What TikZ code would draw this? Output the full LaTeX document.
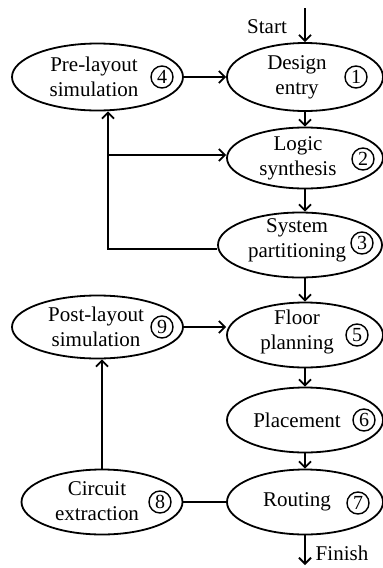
\documentclass[tikz,border=0pt]{standalone}
\usepackage{fontspec}
\setmainfont{Liberation Serif}
\usepackage{tikz}
\usetikzlibrary{shapes.geometric,arrows.meta}
\newcommand{\strokecolor}{black}
\newcommand{\strokewidth}{1.8pt}
\newcommand{\ringsize}{22pt}

\begin{document}
\begin{tikzpicture}[x=1pt,y=-1pt,
  stage/.style={ellipse, draw=\strokecolor, line width=\strokewidth, inner sep=0pt},
  caption/.style={align=center, font=\fontsize{21}{25}\selectfont, inner sep=0pt},
  ring/.style={circle, draw=\strokecolor, line width=1.4pt, inner sep=0pt, minimum size=\ringsize, font=\fontsize{20}{20}\selectfont},
  flow/.style={draw=\strokecolor, line width=\strokewidth, -{Straight Barb[length=6pt,width=12pt]}},
  link/.style={draw=\strokecolor, line width=\strokewidth}]
\useasboundingbox (0,0) rectangle (383,568);
%right column
\node[stage] (1) at (305, 77) [minimum width=156, minimum height=68] {};
\node[stage] (2) at (305, 158) [minimum width=156, minimum height=61] {};
\node[stage] (3) at (300, 245) [minimum width=164, minimum height=65] {};
\node[stage] (5) at (305, 335) [minimum width=156, minimum height=65] {};
\node[stage] (6) at (305, 420) [minimum width=156, minimum height=65] {};
\node[stage] (7) at (305, 502) [minimum width=156, minimum height=65] {};
%left column
\node[stage] (4) at (97.5, 77) [minimum width=171, minimum height=67] {};
\node[stage] (9) at (97.5, 327) [minimum width=171, minimum height=63] {};
\node[stage] (8) at (102, 502) [minimum width=161, minimum height=65] {};
%texts
\node[caption] (t1) at (297, 77) {Design\\entry};
\node[caption] (t2) at (298, 158) {Logic\\synthesis};
\node[caption] (t3) at (297, 240) {System\\partitioning};
\node[caption] (t5) at (297, 332) {Floor\\planning};
\node[caption] (t6) at (297, 420) {Placement};
\node[caption] (t7) at (297, 502) {Routing};
\node[caption] (t4) at (94, 77) {Pre-layout\\simulation};
\node[caption] (t9) at (96, 327) {Post-layout\\simulation};
\node[caption] (t8) at (97, 501) {Circuit\\extraction};
%numbers
\node[ring] (n1) at (356, 77) {1};
\node[ring] (n2) at (363, 159) {2};
\node[ring] (n3) at (362, 243) {3};
\node[ring] (n5) at (357, 335) {5};
\node[ring] (n6) at (364, 420) {6};
\node[ring] (n7) at (358, 503) {7};
\node[ring] (n4) at (162, 77) {4};
\node[ring] (n9) at (162, 327) {9};
\node[ring] (n8) at (160, 502) {8};
%start and finish
\coordinate (start) at (305, 8);
\coordinate (finish) at (305, 565);
\node[caption] (startlbl) at (267, 27) {Start};
\node[caption] (finishlbl) at (342, 553) {Finish};
\draw[flow] (start) -- (1.north);
\draw[flow] (7.south) -- (finish);
%down the right column
\draw[flow] (1.south) -- (2.north);
\draw[flow] (2.south) -- (2.south |- 3.north);
\draw[flow] (5.north |- 3.south) -- (5.north);
\draw[flow] (5.south) -- (6.north);
\draw[flow] (6.south) -- (7.north);
%across
\draw[flow] (4.east) -- (1.west);
\draw[flow] (9.east) -- (5.west |- 9.east);
\draw[link] (8.east) -- (7.west);
%loop from 3
\coordinate (j) at (108, 249);
\coordinate (b) at (108, 155);
\draw[flow] (3.west |- j) -- (j) -- (j |- 4.south);
\draw[flow] (b) -- (b -| 2.west);
%loop from 8
\draw[flow] (8.north) -- (8.north |- 9.south);
\end{tikzpicture}
\end{document}
